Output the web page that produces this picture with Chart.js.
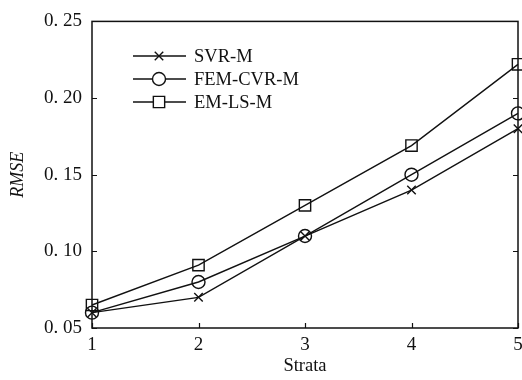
<!DOCTYPE html>
<html>
<head>
<meta charset="utf-8">
<script src="https://cdn.jsdelivr.net/npm/chart.js@4"></script>
<style>
  html, body { margin: 0; padding: 0; background: #fff; }
  #wrap { width: 522px; height: 380px; }
</style>
</head>
<body>
<div id="wrap"><canvas id="myChart" width="522" height="380"></canvas></div>
<script>
const strata = ['1', '2', '3', '4', '5'];
const seriesNames = ['SVR-M', 'FEM-CVR-M', 'EM-LS-M'];
const svrM = [0.060, 0.070, 0.110, 0.140, 0.180];
const femCvrM = [0.060, 0.080, 0.110, 0.150, 0.190];
const emLsM = [0.065, 0.091, 0.130, 0.169, 0.222];
const yTicks = [0.05, 0.10, 0.15, 0.20, 0.25];

const serif = "'Liberation Serif', 'Times New Roman', serif";
const ink = '#111';

// inward tick marks + frame + legend inside the plot
const framePlugin = {
    id: 'frame',
    afterDraw(chart) {
        const c = chart.ctx, a = chart.chartArea;
        const x = chart.scales.x, y = chart.scales.y;
        c.save();
        c.strokeStyle = ink;
        c.lineWidth = 1.5;
        c.strokeRect(a.left, a.top, a.right - a.left, a.bottom - a.top);
        c.lineWidth = 1.2;
        c.beginPath();
        yTicks.forEach(v => {
            const py = Math.round(y.getPixelForValue(v)) + 0.5;
            c.moveTo(a.left, py); c.lineTo(a.left + 5, py);
            c.moveTo(a.right, py); c.lineTo(a.right - 5, py);
        });
        strata.forEach((s, i) => {
            const px = Math.round(x.getPixelForValue(i)) + 0.5;
            c.moveTo(px, a.bottom); c.lineTo(px, a.bottom - 5);
        });
        c.stroke();

        // legend
        const rows = [56, 79, 102];
        chart.data.datasets.forEach((ds, i) => {
            const ly = rows[i];
            c.strokeStyle = ink;
            c.lineWidth = 1.4;
            c.beginPath();
            c.moveTo(133, ly); c.lineTo(186, ly);
            c.stroke();
            c.fillStyle = '#fff';
            Chart.helpers.drawPoint(c, {
                pointStyle: ds.pointStyle,
                radius: ds.pointRadius,
                borderWidth: 1.4,
                rotation: 0
            }, 159, ly);
            c.fillStyle = ink;
            c.font = '18.5px ' + serif;
            c.textBaseline = 'middle';
            c.textAlign = 'left';
            c.fillText(ds.label, 194, ly + 1);
        });
        c.restore();
    }
};

const mkSet = (label, data, style, r) => ({
    label: label,
    data: data,
    borderColor: ink,
    backgroundColor: 'rgba(0,0,0,0)',
    borderWidth: 1.4,
    pointStyle: style,
    pointRadius: r,
    pointHoverRadius: r,
    pointBorderColor: ink,
    pointBackgroundColor: 'rgba(0,0,0,0)',
    pointBorderWidth: 1.4,
    tension: 0,
    clip: false
});

new Chart(document.getElementById('myChart'), {
    type: 'line',
    data: {
        labels: strata,
        datasets: [
            mkSet(seriesNames[0], svrM, 'crossRot', 6),
            mkSet(seriesNames[1], femCvrM, 'circle', 6.5),
            mkSet(seriesNames[2], emLsM, 'rect', 8)
        ]
    },
    options: {
        responsive: false,
        animation: false,
        layout: { autoPadding: false, padding: { top: 18, right: 0, left: 0, bottom: 0 } },
        plugins: {
            legend: { display: false },
            tooltip: { enabled: false }
        },
        scales: {
            x: {
                type: 'category',
                offset: false,
                grid: { display: false, drawTicks: false },
                border: { display: false },
                ticks: {
                    color: ink,
                    padding: 6,
                    font: { family: serif, size: 19 }
                },
                title: {
                    display: true,
                    text: 'Strata',
                    color: ink,
                    font: { family: serif, size: 18.5 },
                    padding: { top: 0, bottom: 3 }
                },
                afterFit(scale) {
                    scale.height = 52;
                    scale.paddingRight = 4;
                }
            },
            y: {
                min: 0.05,
                max: 0.25,
                grid: { display: false, drawTicks: false },
                border: { display: false },
                afterBuildTicks(scale) {
                    scale.ticks = yTicks.map(v => ({ value: v }));
                },
                ticks: {
                    color: ink,
                    padding: 10,
                    font: { family: serif, size: 19 },
                    callback: v => (Math.round(v * 100) / 100).toFixed(2).replace('.', '. ')
                },
                title: {
                    display: true,
                    text: 'RMSE',
                    color: ink,
                    font: { family: serif, size: 18, style: 'italic' },
                    padding: { top: 7, bottom: 0 }
                },
                afterFit(scale) { scale.width = 92; }
            }
        }
    },
    plugins: [framePlugin]
});
</script>
</body>
</html>
